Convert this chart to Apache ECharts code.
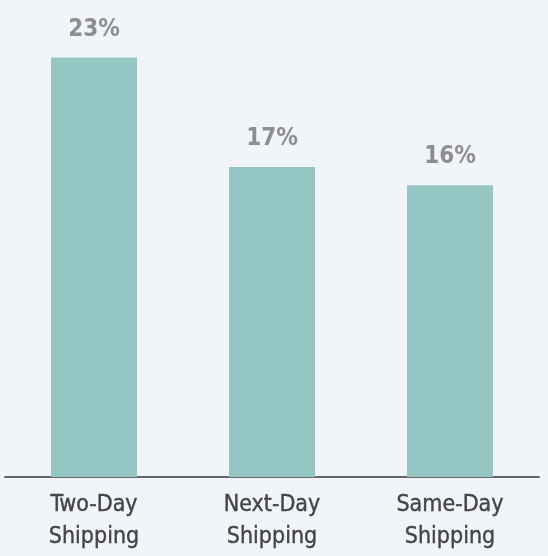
<!DOCTYPE html>
<html>
<head>
<meta charset="utf-8">
<script src="https://cdn.jsdelivr.net/npm/echarts@6/dist/echarts.min.js"></script>
<style>
  html, body { margin: 0; padding: 0; background: #f1f5fa; }
  #chart { width: 548px; height: 556px; }
</style>
</head>
<body>
<div id="chart"></div>
<script>
// Share of shoppers by shipping option
const categories = ['Two-Day\nShipping', 'Next-Day\nShipping', 'Same-Day\nShipping'];
const values = [23, 17, 16];

const chart = echarts.init(document.getElementById('chart'));
chart.setOption({
  backgroundColor: '#f1f5fa',
  animation: false,
  grid: { left: 5, right: 9, top: 21, bottom: 79 },
  xAxis: {
    type: 'category',
    data: categories,
    axisLine: { show: true, lineStyle: { color: '#666666', width: 2 } },
    axisTick: { show: false },
    axisLabel: {
      color: '#454545',
      fontFamily: 'DejaVu Sans Condensed',
      fontWeight: 500,
      fontSize: 23,
      lineHeight: 32,
      margin: 12,
      textBorderColor: '#454545',
      textBorderWidth: 0.4
    }
  },
  yAxis: {
    type: 'value',
    min: 0,
    max: 25,
    show: false,
    splitLine: { show: false }
  },
  series: [{
    type: 'bar',
    data: values,
    barWidth: 86,
    itemStyle: { color: '#94c6c4' },
    label: {
      show: true,
      position: 'top',
      distance: 16,
      formatter: '{c}%',
      color: '#8e8e8e',
      fontFamily: 'DejaVu Sans Condensed',
      fontWeight: 'bold',
      fontSize: 24
    }
  }]
});
</script>
</body>
</html>
